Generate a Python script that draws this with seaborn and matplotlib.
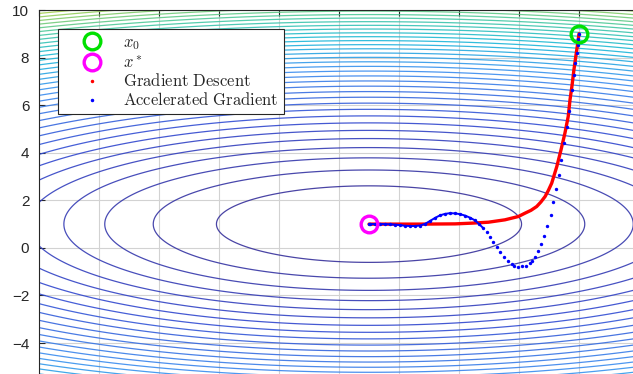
import numpy as np
import matplotlib
matplotlib.use("Agg")
import matplotlib.pyplot as plt
import seaborn as sns
from matplotlib.colors import LinearSegmentedColormap
from matplotlib.lines import Line2D

# ---------------------------------------------------------------------------
# data
# ---------------------------------------------------------------------------
# quadratic bowl f(x, y) = (x - cx)^2 + k (y - cy)^2
center_x, center_y = 1.0, 1.0
k_y = 10.0
n_levels = 35

x0 = (8.0, 9.0)        # start point
x_star = (1.0, 1.0)    # minimiser

# gradient descent path (dense red dots)
gd_x = [8.00, 7.95, 7.90, 7.83, 7.77, 7.70, 7.64, 7.53, 7.40, 7.26, 7.09,
        6.98, 6.87, 6.73, 6.59, 6.40, 6.20, 5.98, 5.53, 4.98, 4.42, 3.87,
        2.70, 1.00]
gd_y = [9.00, 8.53, 8.11, 7.48, 6.85, 6.22, 5.52, 4.82, 4.12, 3.42, 2.72,
        2.42, 2.16, 1.93, 1.74, 1.58, 1.46, 1.32, 1.18, 1.08, 1.04, 1.01,
        1.00, 1.00]

# accelerated gradient path (blue dots)
ag_x = [8.00, 7.98, 7.97, 7.93, 7.88, 7.83, 7.77, 7.67, 7.59, 7.51, 7.40,
        7.32, 7.23, 7.14, 7.06, 6.94, 6.83, 6.73, 6.62, 6.53, 6.44, 6.36,
        6.23, 6.10, 5.97, 5.83, 5.76, 5.64, 5.51, 5.37, 5.26, 5.14, 5.03,
        4.92, 4.81, 4.67, 4.53, 4.37, 4.20, 4.03, 3.87, 3.70, 3.53, 3.37,
        3.20, 3.03, 2.87, 2.70, 2.53, 2.37, 2.20, 2.03, 1.87, 1.70, 1.53,
        1.37, 1.20, 1.03, 1.00]
ag_y = [9.00, 8.79, 8.53, 8.20, 7.78, 7.27, 6.64, 5.76, 5.09, 4.41, 3.70,
        3.07, 2.48, 1.93, 1.39, 0.90, 0.50, 0.16, -0.13, -0.37, -0.53, -0.64,
        -0.74, -0.78, -0.80, -0.76, -0.69, -0.55, -0.37, -0.16, 0.05, 0.26, 0.47,
        0.66, 0.83, 1.00, 1.16, 1.27, 1.36, 1.42, 1.45, 1.46, 1.43, 1.37,
        1.26, 1.13, 1.01, 0.94, 0.92, 0.92, 0.93, 0.96, 0.98, 0.99, 1.00,
        1.00, 1.00, 1.00, 1.00]
ag_dense_from = 34   # from here on the dots touch each other

x_lim = (-10, 10)
y_lim = (-6, 10)
x_ticks = [-10, -8, -6, -4, -2, 0, 2, 4, 6, 8, 10]
y_ticks = [-4, -2, 0, 2, 4, 6, 8, 10]

# ---------------------------------------------------------------------------
sns.set_theme(style="white")
plt.rcParams["font.family"] = ["Liberation Sans", "DejaVu Sans"]
plt.rcParams["mathtext.fontset"] = "cm"

W, H = 633, 374
fig = plt.figure(figsize=(W / 100, H / 100), dpi=100)
ax_left, ax_top = 39 / W, 1 - 10 / H
ax_w = 600 / W
ax_h = (16 * 23.79) / H
ax = fig.add_axes([ax_left, ax_top - ax_h, ax_w, ax_h])

# contour field
gx = np.linspace(x_lim[0], x_lim[1], 401)
gy = np.linspace(y_lim[0], y_lim[1], 321)
X, Y = np.meshgrid(gx, gy)
Z = (X - center_x) ** 2 + k_y * (Y - center_y) ** 2
levels = np.linspace(Z.min(), Z.max(), n_levels + 2)[1:-1]

cmap = LinearSegmentedColormap.from_list("parulaish", [
    (0.00, "#372c92"),
    (0.20, "#3148d0"),
    (0.45, "#3a8ef0"),
    (0.65, "#1ab8d8"),
    (0.82, "#45c8a0"),
    (1.00, "#b8d040"),
])
ax.contour(X, Y, Z, levels=levels, cmap=cmap, linewidths=0.9, alpha=0.9,
           zorder=2, vmin=Z.min(), vmax=Z.max())

# trajectories
sns.lineplot(x=gd_x, y=gd_y, sort=False, color="red", lw=2.4, ax=ax,
             zorder=4, estimator=None)
sns.scatterplot(x=ag_x, y=ag_y, color="blue", s=6, linewidth=0, ax=ax,
                zorder=5)
ax.plot(ag_x[ag_dense_from:], ag_y[ag_dense_from:], color="blue", lw=1.4,
        zorder=5)

ax.plot(*x0, "o", mfc="none", mec="#00e000", mew=2.4, ms=12, zorder=6)
ax.plot(*x_star, "o", mfc="none", mec="#ff00ff", mew=2.4, ms=12, zorder=6)

# axes cosmetics (MATLAB look)
ax.set_xlim(*x_lim)
ax.set_ylim(*y_lim)
ax.set_xticks(x_ticks)
ax.set_yticks(y_ticks)
ax.set_xticklabels([])
ax.grid(True, color="#d2d2d2", lw=0.8, zorder=1)
ax.set_axisbelow(True)
ax.tick_params(axis="both", direction="in", length=4, width=0.8,
               colors="#262626", labelsize=11, top=True, left=True,
               bottom=True, right=True)
ax.tick_params(axis="y", pad=7)
for s in ax.spines.values():
    s.set_color("#262626")
    s.set_linewidth(0.8)

handles = [
    Line2D([], [], ls="none", marker="o", mfc="none", mec="#00e000", mew=2.4, ms=12),
    Line2D([], [], ls="none", marker="o", mfc="none", mec="#ff00ff", mew=2.4, ms=12),
    Line2D([], [], ls="none", marker=".", color="red", ms=3),
    Line2D([], [], ls="none", marker=".", color="blue", ms=3),
]
labels = [r"$x_0$", r"$x^*$", r"$\mathrm{Gradient\ Descent}$",
          r"$\mathrm{Accelerated\ Gradient}$"]
leg = ax.legend(handles, labels, loc="upper left",
                bbox_to_anchor=(58 / W, 1 - 29 / H), bbox_transform=fig.transFigure,
                borderaxespad=0, fancybox=False, framealpha=1, edgecolor="#262626",
                fontsize=12, handlelength=3.4, handletextpad=0.15,
                labelspacing=0.12, borderpad=0.35)
leg.get_frame().set_linewidth(0.8)
leg.set_zorder(10)

fig.savefig("out.png", dpi=100)
